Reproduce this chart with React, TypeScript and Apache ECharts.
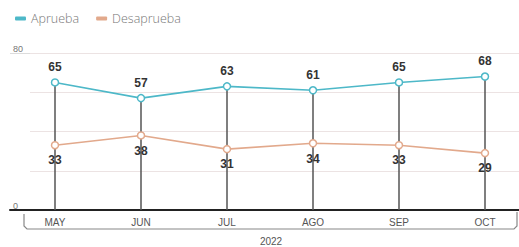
import React, { useEffect, useRef } from "react";
import * as echarts from "echarts";

const months = ["MAY", "JUN", "JUL", "AGO", "SEP", "OCT"];
const aprueba = [65, 57, 63, 61, 65, 68];
const desaprueba = [33, 38, 31, 34, 33, 29];
const yearLabel = "2022";
const yMin = 0;
const yMax = 80;

const COLOR_A = "#4db8c8";
const COLOR_D = "#e2a98c";
const FONT = "'Liberation Sans Narrow', 'Liberation Sans', Arial, sans-serif";

export default function App() {
  const ref = useRef<HTMLDivElement>(null);
  useEffect(() => {
    if (!ref.current) return;
    const chart = echarts.init(ref.current, undefined, { renderer: "svg" });
    const top = 53;
    const height = 157;
    chart.setOption({
      animation: false,
      backgroundColor: "#ffffff",
      legend: {
        left: 10,
        top: 7,
        itemWidth: 11,
        itemHeight: 4,
        itemGap: 17,
        icon: "roundRect",
        textStyle: { color: "#777", fontSize: 12.5, fontFamily: "'Open Sans', sans-serif", fontWeight: 300 },
        data: [
          { name: "Aprueba", itemStyle: { color: COLOR_A, borderWidth: 0 } },
          { name: "Desaprueba", itemStyle: { color: COLOR_D, borderWidth: 0 } },
        ],
      },
      grid: [
        { left: 10, right: 0, top, height },
        { left: 30, right: 0, top, height },
        { left: 55, right: 34, top, height },
      ],
      xAxis: [
        {
          gridIndex: 0,
          type: "value",
          min: 0,
          max: 1,
          axisLine: { show: true, onZero: false, lineStyle: { color: "#222", width: 2 } },
          axisTick: { show: false },
          axisLabel: { show: false },
          splitLine: { show: false },
        },
        {
          gridIndex: 1,
          type: "value",
          show: false,
        },
        {
          gridIndex: 2,
          type: "category",
          data: months,
          boundaryGap: false,
          axisLine: { show: false },
          axisTick: { show: false },
          axisLabel: { color: "#555", fontSize: 10, margin: 7, fontFamily: FONT },
        },
      ],
      yAxis: [
        {
          gridIndex: 0,
          type: "value",
          min: yMin,
          max: yMax,
          interval: 80,
          axisLine: { show: false },
          axisTick: { show: false },
          axisLabel: {
            inside: true,
            margin: 3,
            color: "#777",
            fontSize: 9,
            verticalAlign: "bottom",
            fontFamily: FONT,
          },
          splitLine: { show: true, lineStyle: { color: "#dcdcdc", width: 1 } },
        },
        {
          gridIndex: 1,
          type: "value",
          min: yMin,
          max: yMax,
          interval: 20,
          axisLine: { show: false },
          axisTick: { show: false },
          axisLabel: { show: false },
          splitLine: { show: true, lineStyle: { color: "#ece3e3", width: 1 } },
        },
        {
          gridIndex: 2,
          type: "value",
          min: yMin,
          max: yMax,
          show: false,
        },
      ],
      series: [
        {
          type: "custom",
          xAxisIndex: 2,
          yAxisIndex: 2,
          silent: true,
          z: 1,
          data: aprueba.map((v, i) => [i, v]),
          renderItem: (params: any, api: any) => {
            const p1 = api.coord([api.value(0), api.value(1)]);
            const p2 = api.coord([api.value(0), 0]);
            return {
              type: "line",
              shape: { x1: p1[0], y1: p1[1], x2: p2[0], y2: p2[1] },
              style: { stroke: "#555", lineWidth: 1.5 },
            };
          },
        },
        {
          name: "Aprueba",
          type: "line",
          xAxisIndex: 2,
          yAxisIndex: 2,
          data: aprueba,
          z: 3,
          color: COLOR_A,
          symbol: "circle",
          symbolSize: 7,
          itemStyle: { color: "#ffffff", borderColor: COLOR_A, borderWidth: 1.5 },
          lineStyle: { color: COLOR_A, width: 1.6 },
          label: {
            show: true,
            position: "top",
            distance: 5,
            color: "#333",
            fontSize: 12,
            fontWeight: "bold",
            fontFamily: FONT,
          },
        },
        {
          name: "Desaprueba",
          type: "line",
          xAxisIndex: 2,
          yAxisIndex: 2,
          data: desaprueba,
          z: 3,
          color: COLOR_D,
          symbol: "circle",
          symbolSize: 7,
          itemStyle: { color: "#ffffff", borderColor: COLOR_D, borderWidth: 1.5 },
          lineStyle: { color: COLOR_D, width: 1.6 },
          label: {
            show: true,
            position: "bottom",
            distance: 5,
            color: "#333",
            fontSize: 12,
            fontWeight: "bold",
            fontFamily: FONT,
          },
        },
      ],
      graphic: [
        {
          type: "polyline",
          silent: true,
          shape: {
            points: [
              [24, 214],
              [24, 226],
              [27, 229],
              [514, 229],
              [517, 226],
              [517, 212],
            ],
          },
          style: { stroke: "#888", lineWidth: 1.2, fill: null },
        },
        {
          type: "text",
          x: 271,
          y: 241,
          silent: true,
          style: {
            text: yearLabel,
            fill: "#555",
            fontSize: 10,
            fontFamily: FONT,
            align: "center",
            verticalAlign: "middle",
          },
        },
      ],
    });
    return () => chart.dispose();
  }, []);
  return <div ref={ref} style={{ width: 519, height: 247, position: "absolute", left: 0, top: 0 }} />;
}
